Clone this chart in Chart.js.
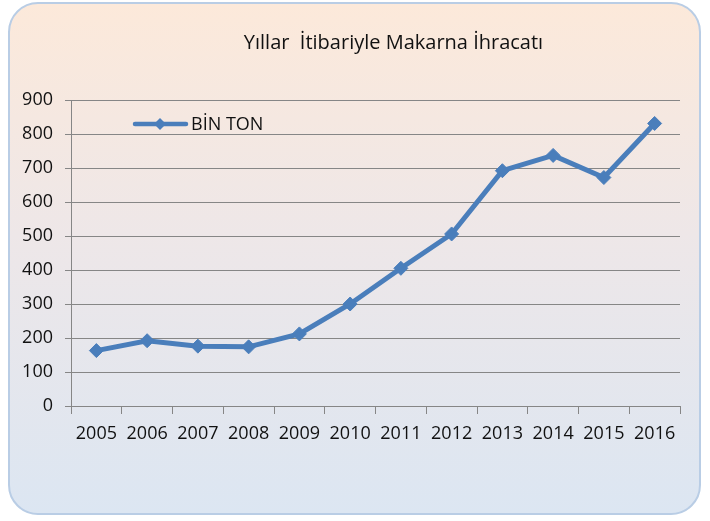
<!DOCTYPE html>
<html lang="tr">
<head>
  <meta charset="UTF-8">
  <title>Yıllar İtibariyle Makarna İhracatı</title>
  <script src="https://cdn.jsdelivr.net/npm/chart.js"></script>
  <style>
    * { margin: 0; padding: 0; box-sizing: border-box; }
    body { width: 710px; height: 521px; background: #fff; position: relative; overflow: hidden; }
    .card {
      position: absolute;
      left: 8px; top: 2px; width: 693px; height: 513px;
      border: 2px solid #b9cde5;
      border-radius: 30px;
      background: linear-gradient(to bottom, #fce9da 0%, #eee7e8 45%, #dce6f2 100%);
    }
    #wrap { position: absolute; left: 0; top: 0; width: 710px; height: 521px; }
  </style>
</head>
<body>
  <div class="card"></div>
  <div id="wrap"><canvas id="chart"></canvas></div>

  <script>
    const years = ['2005', '2006', '2007', '2008', '2009', '2010', '2011', '2012', '2013', '2014', '2015', '2016'];
    const binTon = [163, 192, 176, 174, 212, 300, 405, 506, 692, 737, 672, 831];
    const seriesName = 'BİN TON';
    const chartTitle = 'Yıllar  İtibariyle Makarna İhracatı';

    const lineColor = '#4a7ebb';
    const gridColor = '#868686';
    const textColor = '#111';

    // title + legend drawn by hand so they sit where the original has them
    const decor = {
      id: 'decor',
      afterDraw(chart) {
        const c = chart.ctx;
        const a = chart.chartArea;
        c.save();
        c.fillStyle = textColor;
        c.font = '20px "Open Sans"';
        c.textAlign = 'center';
        c.textBaseline = 'middle';
        c.fillText(chartTitle, (a.left + a.right) / 2 + 18, 43);

        const ly = a.top + 24;
        c.strokeStyle = lineColor;
        c.lineWidth = 4.5;
        c.lineCap = 'round';
        c.beginPath();
        c.moveTo(135, ly);
        c.lineTo(186, ly);
        c.stroke();
        c.fillStyle = lineColor;
        c.beginPath();
        c.moveTo(160, ly - 6);
        c.lineTo(166, ly);
        c.lineTo(160, ly + 6);
        c.lineTo(154, ly);
        c.closePath();
        c.fill();
        c.fillStyle = textColor;
        c.font = '18px "Open Sans"';
        c.textAlign = 'left';
        c.fillText(seriesName, 191, ly + 1);
        c.restore();
      }
    };

    new Chart(document.getElementById('chart'), {
      type: 'line',
      data: {
        labels: years,
        datasets: [{
          label: seriesName,
          data: binTon,
          borderColor: lineColor,
          backgroundColor: lineColor,
          borderWidth: 5,
          pointStyle: 'rectRot',
          pointRadius: 7,
          pointHoverRadius: 7,
          pointBorderWidth: 1,
          tension: 0
        }]
      },
      options: {
        responsive: true,
        maintainAspectRatio: false,
        animation: false,
        layout: { padding: { top: 100, right: 30, bottom: 65, left: 0 } },
        plugins: {
          legend: { display: false },
          title: { display: false },
          tooltip: { enabled: false }
        },
        scales: {
          x: {
            offset: true,
            grid: { offset: true, drawOnChartArea: false, drawTicks: true, tickLength: 8, color: gridColor },
            border: { color: gridColor, width: 1 },
            ticks: { color: textColor, font: { family: 'Open Sans', size: 18 }, padding: 9, maxRotation: 0, autoSkip: false },
            afterFit(s) { s.height = 50; }
          },
          y: {
            min: 0,
            max: 900,
            ticks: { stepSize: 100, color: textColor, font: { family: 'Open Sans', size: 18 }, padding: 12 },
            grid: { color: gridColor, lineWidth: 1, tickLength: 6 },
            border: { color: gridColor, width: 1 },
            afterFit(s) { s.width = 71; }
          }
        }
      },
      plugins: [decor]
    });
  </script>
</body>
</html>
